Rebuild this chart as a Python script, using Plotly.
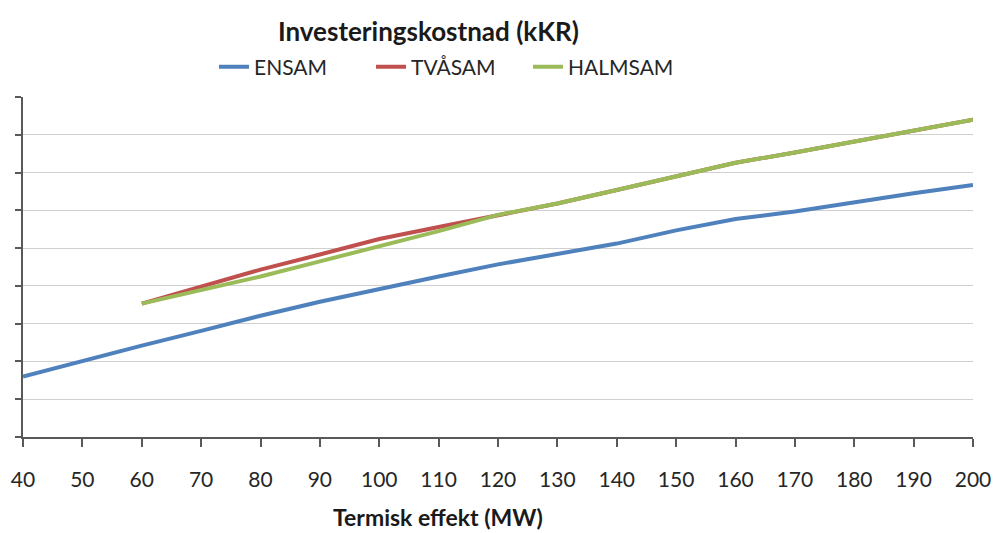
import plotly.graph_objects as go

# Thermal output (MW)
effekt = [40, 50, 60, 70, 80, 90, 100, 110, 120, 130, 140, 150, 160, 170, 180, 190, 200]

# Investment cost (kKR) per alternative
ensam = [1600, 2020, 2420, 2810, 3210, 3580, 3920, 4250, 4570, 4850, 5120, 5470, 5770, 5970, 6220, 6450, 6670]
tvasam = [None, None, 3530, 3980, 4430, 4830, 5240, 5560, 5880, 6180, 6540, 6900, 7260, 7530, 7820, 8110, 8400]
halmsam = [None, None, 3530, 3890, 4250, 4650, 5040, 5450, 5880, 6180, 6540, 6900, 7260, 7530, 7820, 8110, 8400]

series = [
    ("ENSAM", ensam, "#4F81BD"),
    ("TVÅSAM", tvasam, "#C0504D"),
    ("HALMSAM", halmsam, "#9BBB59"),
]

FONT = "Lato"
W, H = 996, 533
L, R, T, B = 23, 23, 97, 96

fig = go.Figure()
for name, vals, color in series:
    fig.add_trace(go.Scatter(
        x=effekt, y=vals, name=name, mode="lines",
        line=dict(color=color, width=4),
        connectgaps=False,
    ))

plot_w = W - L - R
plot_h = H - T - B

fig.update_layout(
    width=W, height=H,
    margin=dict(l=L, r=R, t=T, b=B, pad=0, autoexpand=False),
    paper_bgcolor="white", plot_bgcolor="white",
    font=dict(family=FONT, color="#262626"),
    title=dict(
        text="<b>Investeringskostnad (kKR)</b>",
        x=425 / W, xanchor="center", xref="paper",
        y=1 - 32 / H, yanchor="middle", yref="container",
        font=dict(size=26, color="#1a1a1a", family=FONT),
    ),
    legend=dict(
        orientation="h",
        x=(214 - L) / plot_w, xanchor="left",
        y=1 + (T - 67) / plot_h, yanchor="middle",
        font=dict(size=21, color="#262626", family=FONT),
        entrywidth=112, entrywidthmode="pixels",
        itemwidth=30,
        bgcolor="rgba(0,0,0,0)",
        traceorder="normal",
    ),
    showlegend=True,
)

fig.update_xaxes(
    range=[40, 200], dtick=10, tick0=40,
    showgrid=False, zeroline=False, automargin=False,
    showline=True, linecolor="#595959", linewidth=2,
    ticks="outside", ticklen=8, tickwidth=2, tickcolor="#595959",
    tickfont=dict(size=21, color="#262626", family=FONT),
    ticklabelstandoff=15,
)

fig.update_yaxes(
    range=[0, 9000], dtick=1000,
    showgrid=True, gridcolor="#d0d0d0", gridwidth=1,
    zeroline=False, automargin=False,
    showline=True, linecolor="#595959", linewidth=2,
    ticks="outside", ticklen=6, tickwidth=2, tickcolor="#595959",
    showticklabels=False,
)

fig.add_annotation(
    text="<b>Termisk effekt (MW)</b>",
    xref="paper", yref="paper",
    x=(438 - L) / plot_w, y=-(517 - (H - B)) / plot_h,
    xanchor="center", yanchor="middle", showarrow=False,
    font=dict(size=23, color="#1a1a1a", family=FONT),
)

fig.write_html("out.html")
